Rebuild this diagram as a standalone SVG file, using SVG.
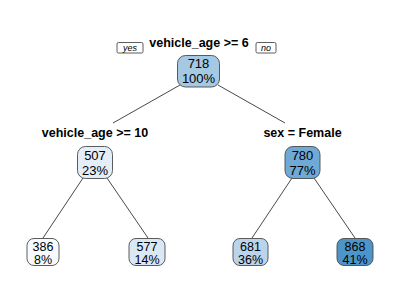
<svg xmlns="http://www.w3.org/2000/svg" width="400" height="300" viewBox="0 0 400 300">
<style>
.bg{fill:#ffffff}
.box{stroke:#4a4a4a;stroke-width:0.9}
.t{font-family:"Liberation Sans",Arial,sans-serif;font-size:13px;fill:#000;text-anchor:middle}
.tl{font-family:"Liberation Sans",Arial,sans-serif;font-size:12.5px;fill:#000;text-anchor:middle}
.lab{font-family:"Liberation Sans",Arial,sans-serif;font-size:12.5px;font-weight:bold;fill:#000;text-anchor:middle}
.yn{font-family:"Liberation Sans",Arial,sans-serif;font-size:9px;font-style:italic;fill:#000;text-anchor:middle}
.ynb{fill:#fff;stroke:#333;stroke-width:0.8}
.edge{stroke:#333;stroke-width:0.9;fill:none}
</style>
<rect class="bg" x="0" y="0" width="400" height="300"/>
<g id="connectors">
<line class="edge" x1="180" y1="85" x2="113" y2="123"/>
<line class="edge" x1="218" y1="85" x2="285" y2="123"/>
<line class="edge" x1="83" y1="178" x2="43" y2="238"/>
<line class="edge" x1="107" y1="178" x2="148" y2="238"/>
<line class="edge" x1="292" y1="178" x2="252" y2="238"/>
<line class="edge" x1="314" y1="178" x2="355" y2="238"/>
</g>
<g id="yes">
<rect class="ynb" x="117" y="42.5" width="26" height="10.5" rx="1.5"/>
<text class="yn" x="130" y="51">yes</text>
</g>
<g id="no">
<rect class="ynb" x="256" y="42.5" width="20" height="10.5" rx="1.5"/>
<text class="yn" x="266" y="51">no</text>
</g>
<g id="root">
<text class="lab" x="199" y="47">vehicle_age &gt;= 6</text>
<rect class="box" x="177.5" y="55.5" width="42" height="31.5" rx="8" fill="#a5c8e3"/>
<text class="t" x="198.5" y="68">718</text>
<text class="t" x="198.5" y="83">100%</text>
</g>
<g id="n507">
<text class="lab" x="95" y="137">vehicle_age &gt;= 10</text>
<rect class="box" x="77.5" y="146.5" width="35" height="32" rx="8" fill="#e4eef9"/>
<text class="t" x="95" y="159.5">507</text>
<text class="t" x="95" y="174.5">23%</text>
</g>
<g id="n780">
<text class="lab" x="302.5" y="137">sex = Female</text>
<rect class="box" x="285" y="146.5" width="35" height="32" rx="8" fill="#6fa9d6"/>
<text class="t" x="302.5" y="159.5">780</text>
<text class="t" x="302.5" y="174.5">77%</text>
</g>
<g id="n386">
<rect class="box" x="27" y="238.5" width="32" height="27" rx="7" fill="#f7fbff"/>
<text class="tl" x="43" y="251">386</text>
<text class="tl" x="43" y="263.5">8%</text>
</g>
<g id="n577">
<rect class="box" x="129" y="238.5" width="36" height="27" rx="7" fill="#dae7f5"/>
<text class="tl" x="147" y="251">577</text>
<text class="tl" x="147" y="263.5">14%</text>
</g>
<g id="n681">
<rect class="box" x="233" y="238.5" width="35" height="27" rx="7" fill="#bad4ec"/>
<text class="tl" x="250.5" y="251">681</text>
<text class="tl" x="250.5" y="263.5">36%</text>
</g>
<g id="n868">
<rect class="box" x="337" y="238.5" width="36" height="27" rx="7" fill="#4d95c9"/>
<text class="tl" x="355" y="251">868</text>
<text class="tl" x="355" y="263.5">41%</text>
</g>
</svg>
